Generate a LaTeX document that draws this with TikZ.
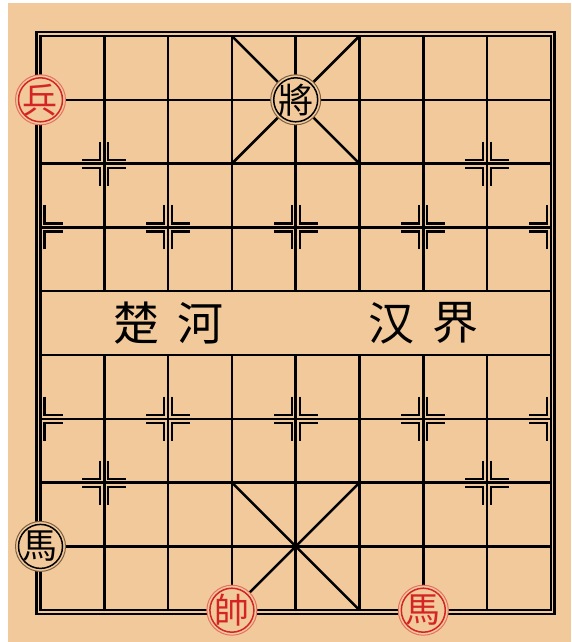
\documentclass[tikz,border=0pt]{standalone}
\usepackage{fontspec}
\newfontfamily\cjkfont{Noto Sans CJK SC}
\newfontfamily\piecefont{Noto Sans CJK TC}
\definecolor{board}{RGB}{241,201,155}
\definecolor{redink}{RGB}{212,36,36}
\definecolor{redring}{RGB}{230,112,100}
\definecolor{blackring}{RGB}{125,95,65}

\tikzset{
  gridline/.style={line width=2.5pt, black},
  markline/.style={line width=2.2pt, black},
  piece/.style={circle, draw=#1, line width=1pt, fill=board,
    minimum size=50pt, inner sep=0pt, font=\piecefont\fontsize{35}{35}\selectfont},
  redpiece/.style={piece=redring, text=redink,
    path picture={\draw[redink, line width=1.5pt] (path picture bounding box.center) circle[radius=22pt];}},
  blackpiece/.style={piece=blackring, text=black,
    path picture={\draw[black, line width=1.5pt] (path picture bounding box.center) circle[radius=22pt];}},
  river/.style={font=\cjkfont\fontsize{46}{46}\selectfont}
}

% marca de posicion: columna, fila, lados
\newcommand{\pointmark}[3]{%
  \foreach \sx in {#3}{
    \foreach \sy in {1,-1}{
      \draw[markline] ([shift={(\sx*4pt,\sy*22pt)}]#1,#2) -- ([shift={(\sx*4pt,\sy*4pt)}]#1,#2) -- ([shift={(\sx*22pt,\sy*4pt)}]#1,#2);
    }
  }
}

\begin{document}
\begin{tikzpicture}

\useasboundingbox (0,0) rectangle (571pt,-642pt);
\fill[white] (0,0) rectangle (571pt,-642pt);
\fill[board] (8pt,-3pt) rectangle (571pt,-642pt);

\begin{scope}[shift={(40.5pt,-36pt)}, x=63.8pt, y=-63.8pt]

% Tablero
	\foreach \y in {0,...,9}
		\draw[gridline] (0,\y) -- (8,\y);

	\foreach \x in {1,...,7} {
		\draw[gridline] (\x,0) -- (\x,4);
		\draw[gridline] (\x,5) -- (\x,9);
	}

	\draw[gridline] (0,0) rectangle (8,9);
	\draw[gridline] ([shift={(-3.8pt,3.8pt)}]0,0) rectangle ([shift={(3.8pt,-3.8pt)}]8,9);

% Palacios
	\draw[gridline] (3,0) -- (5,2) (5,0) -- (3,2);
	\draw[gridline] (3,7) -- (5,9) (5,7) -- (3,9);

% Marcas
	\foreach \y in {2,7} {
		\pointmark{1}{\y}{1,-1}
		\pointmark{7}{\y}{1,-1}
	}
	\foreach \y in {3,6} {
		\pointmark{0}{\y}{1}
		\foreach \x in {2,4,6} {\pointmark{\x}{\y}{1,-1}}
		\pointmark{8}{\y}{-1}
	}

% Rio
	\node[river] (chu) at (1.5,4.5) {楚};
	\node[river] (he) at (2.5,4.5) {河};
	\node[river] (han) at (5.5,4.5) {汉};
	\node[river] (jie) at (6.5,4.5) {界};

% Piezas
	\node[redpiece] (bing) at (0,1) {兵};
	\node[blackpiece] (jiang) at (4,1) {將};
	\node[blackpiece] (heima) at (0,8) {馬};
	\node[redpiece] (shuai) at (3,9) {帥};
	\node[redpiece] (hongma) at (6,9) {馬};

\end{scope}
\end{tikzpicture}
\end{document}
